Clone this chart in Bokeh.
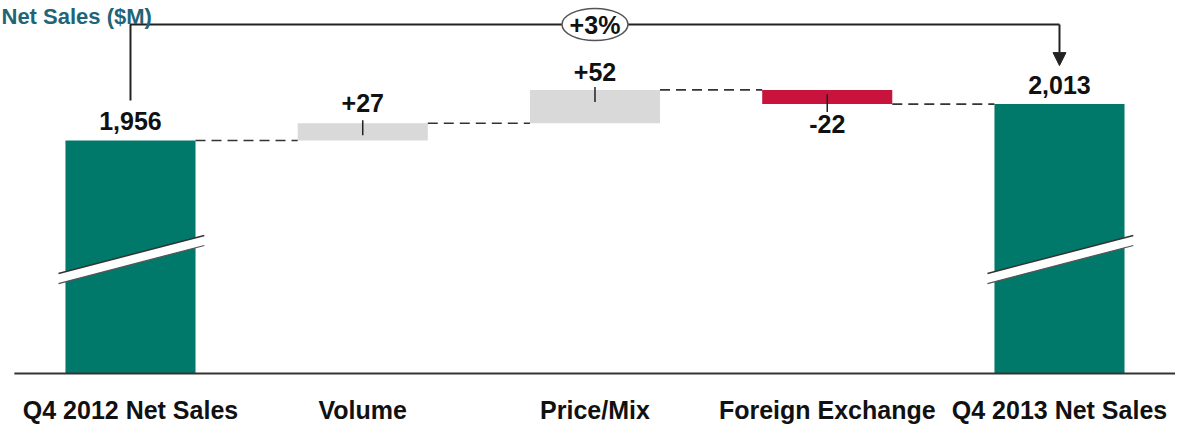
from bokeh.plotting import figure
from bokeh.models import Range1d, Arrow, NormalHead, ColumnDataSource
from bokeh.core.properties import value
from bokeh.embed import file_html
from bokeh.resources import INLINE

# ---- data ----
categories = ["Q4 2012 Net Sales", "Volume", "Price/Mix", "Foreign Exchange", "Q4 2013 Net Sales"]
start_total = 1956
deltas = [27, 52, -22]
delta_labels = ["+27", "+52", "-22"]
end_total = 2013
total_labels = ["1,956", "2,013"]
change_label = "+3%"
title_text = "Net Sales ($M)"

# ---- styling ----
FONT = "Liberation Sans"
TEAL = "#00796b"
GRAY = "#d9d9d9"
RED = "#c8143c"
DARK = "#222222"

AXIS_BASE = 1592          # value where the broken axis baseline sits
BAR_W = 0.56
KY = 0.64                 # px per value unit (for pixel-like offsets)
X0, X1 = -0.5597, 4.4995

p = figure(width=1175, height=427, output_backend="svg", toolbar_location=None,
           x_range=Range1d(X0, X1), y_range=Range1d(1507.6, 2174.75),
           min_border=0)
p.axis.visible = False
p.grid.visible = False
p.outline_line_color = None
p.background_fill_color = "white"

n = len(categories)
xs = list(range(n))

# cumulative levels
levels = [start_total]
for d in deltas:
    levels.append(levels[-1] + d)

# totals
p.vbar(x=[0, n - 1], top=[start_total, end_total], bottom=AXIS_BASE, width=BAR_W,
       fill_color=TEAL, line_color=None)

# delta bars
d_x = [1, 2, 3]
d_bottom = [min(levels[i], levels[i + 1]) for i in range(3)]
d_top = [max(levels[i], levels[i + 1]) for i in range(3)]
d_col = [GRAY if d > 0 else RED for d in deltas]
p.vbar(x=d_x, top=d_top, bottom=d_bottom, width=BAR_W, fill_color=d_col, line_color=None)

# leader ticks on delta bars
tick_y0, tick_y1 = [], []
for i, d in enumerate(deltas):
    end = levels[i + 1]
    if d > 0:
        tick_y0.append(end + 3 / KY); tick_y1.append(end - 12 / KY)
    else:
        tick_y0.append(end - 8 / KY); tick_y1.append(end + 10 / KY)
p.segment(x0=d_x, x1=d_x, y0=tick_y0, y1=tick_y1, line_color=DARK, line_width=1.5)

# dashed connectors
con_level = levels[:3] + [end_total]
p.segment(x0=[i + BAR_W / 2 for i in range(4)], x1=[i + 1 - BAR_W / 2 for i in range(4)],
          y0=con_level, y1=con_level, line_color="#333333", line_width=1.7, line_dash="10 6")

# baseline
p.segment(x0=[-0.5], x1=[n - 0.5], y0=[AXIS_BASE], y1=[AXIS_BASE], line_color="#333333", line_width=2)

# axis break marks on total bars
for cx in [0, n - 1]:
    xl, xr = cx - 0.31, cx + 0.318
    top_l, top_r = 1748.2, 1807.6
    bot_l, bot_r = 1732.5, 1792.0
    p.patch(x=[xl, xr, xr, xl], y=[top_l, top_r, bot_r, bot_l], fill_color="white", line_color=None)
    p.line(x=[xl, xr], y=[top_l, top_r], line_color="#333333", line_width=1.5)
    p.line(x=[xl, xr], y=[bot_l, bot_r], line_color="#555555", line_width=1.2)

# value labels
lab_src = ColumnDataSource(dict(
    x=[0, 1, 2, 3, 4],
    y=[start_total, levels[1], levels[2], levels[3], end_total],
    t=[total_labels[0]] + delta_labels + [total_labels[1]],
    off=[-20, -20, -18, 20, -19],
))
p.text(x="x", y="y", text="t", y_offset="off", source=lab_src, text_align="center",
       text_baseline="middle", text_font=value(FONT), text_font_style="bold",
       text_font_size="25px", text_color="#111111")

# category labels
p.text(x=xs, y=[AXIS_BASE] * n, text=categories, y_offset=37, text_align="center",
       text_baseline="middle", text_font=value(FONT), text_font_style="bold",
       text_font_size="25px", text_color="#111111")

# bracket with change label
bracket_y = 2137.25
p.line(x=[0, 0, n - 1], y=[start_total + 62.5, bracket_y, bracket_y], line_color=DARK, line_width=2)
p.add_layout(Arrow(end=NormalHead(size=13, fill_color=DARK, line_color=DARK),
                   x_start=n - 1, y_start=bracket_y, x_end=n - 1, y_end=end_total + 60,
                   line_color=DARK, line_width=2))
p.ellipse(x=[2], y=[bracket_y], width=66, height=32, width_units="screen", height_units="screen",
          fill_color="white", line_color="#555555", line_width=1.5)
p.text(x=[2], y=[bracket_y], text=[change_label], text_align="center", text_baseline="middle",
       text_font=value(FONT), text_font_style="bold", text_font_size="25px", text_color="#111111")

# title
p.text(x=[X0], y=[2149.75], x_offset=1, text=[title_text], text_align="left", text_baseline="alphabetic",
       text_font=value(FONT), text_font_style="bold", text_font_size="22px", text_color="#1f6577")

open("out.html", "w").write(file_html(p, INLINE))
